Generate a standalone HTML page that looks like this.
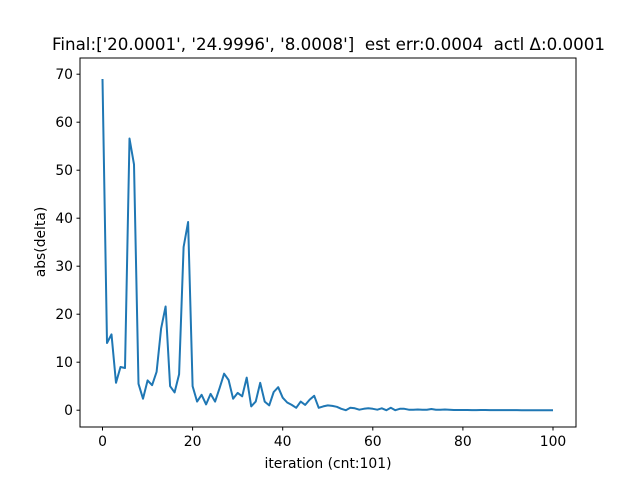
<!DOCTYPE html>
<html><head><meta charset="utf-8"><style>
body{margin:0;background:#fff;}
svg{display:block;font-family:"DejaVu Sans","Liberation Sans",sans-serif;}
</style></head><body>
<svg id="chart" width="640" height="480">
<rect width="640" height="480" fill="#fff"/>
<text x="328.5" y="50" font-size="16.7" text-anchor="middle" style="white-space:pre" xml:space="preserve">Final:['20.0001', '24.9996', '8.0008']  est err:0.0004  actl Δ:0.0001</text>
<g id="ticks"></g>
<polyline id="line" fill="none" stroke="#1f77b4" stroke-width="2" stroke-linejoin="round"/>
<rect x="80" y="58" width="496" height="369" fill="none" stroke="#000" stroke-width="1"/>
<text x="328" y="468" font-size="13.9" text-anchor="middle">iteration (cnt:101)</text>
<text x="45" y="242" font-size="13.9" text-anchor="middle" transform="rotate(-90 45 242)">abs(delta)</text>
</svg>
<script>
const values = [69,14,15.8,5.7,9,8.8,56.6,51.2,5.5,2.4,6.2,5.2,8,17,21.6,5,3.7,7.5,34,39.2,
5,1.8,3.2,1.2,3.4,1.8,4.6,7.6,6.3,2.4,3.6,2.9,6.8,0.8,1.8,5.7,1.8,1.0,3.8,4.8,
2.6,1.6,1.1,0.5,1.8,1.1,2.2,3.0,0.5,0.8,1.0,0.9,0.7,0.3,0.0,0.5,0.4,0.1,0.3,0.4,
0.3,0.1,0.4,0.0,0.5,0.0,0.3,0.3,0.1,0.1,0.15,0.1,0.1,0.25,0.1,0.1,0.15,0.1,0.05,0.05,
0.05,0.05,0.02,0.02,0.05,0.05,0.02,0.02,0.02,0.02,0.02,0.02,0.02,0.01,0.01,0.01,0.01,0.01,0.01,0.01,0.01];
const xTicks = [0,20,40,60,80,100];
const yTicks = [0,10,20,30,40,50,60,70];
const ns = "http://www.w3.org/2000/svg";
function xs(v){return 102.5 + v*4.505;}
function ys(v){return 410.2 - v*4.8;}
const pts = values.map((v,i)=>xs(i).toFixed(1)+","+ys(v).toFixed(1)).join(" ");
document.getElementById("line").setAttribute("points", pts);
const g = document.getElementById("ticks");
xTicks.forEach(t=>{
  const l=document.createElementNS(ns,"line");
  l.setAttribute("x1",xs(t));l.setAttribute("x2",xs(t));l.setAttribute("y1",427);l.setAttribute("y2",430.5);l.setAttribute("stroke","#000");
  
  
  g.appendChild(l);
  const tx=document.createElementNS(ns,"text");
  tx.setAttribute("x",xs(t));tx.setAttribute("y",446);tx.setAttribute("font-size","13.9");tx.setAttribute("text-anchor","middle");
  tx.textContent=t;
  
  
  g.appendChild(tx);
});
yTicks.forEach(t=>{
  const l=document.createElementNS(ns,"line");
  l.setAttribute("x1",76.5);l.setAttribute("x2",80);l.setAttribute("y1",ys(t));l.setAttribute("y2",ys(t));l.setAttribute("stroke","#000");
  
  
  g.appendChild(l);
  const tx=document.createElementNS(ns,"text");
  tx.setAttribute("x",73);tx.setAttribute("y",ys(t)+5);tx.setAttribute("font-size","13.9");tx.setAttribute("text-anchor","end");
  tx.textContent=t;
  
  
  g.appendChild(tx);
});
</script>
</body></html>
